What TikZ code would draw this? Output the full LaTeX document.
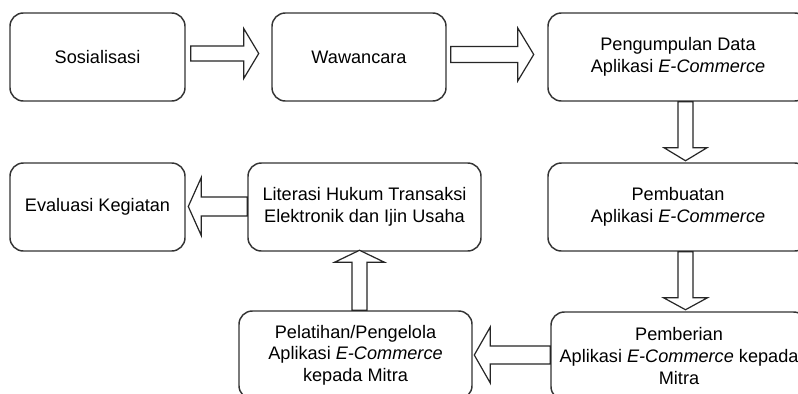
\documentclass[tikz,border=0pt]{standalone}
\usepackage{fontspec}
\setmainfont{Liberation Sans}
\usetikzlibrary{calc}
\tikzset{
  box/.style={draw=black!80, line width=1.1pt, rounded corners=10pt, fill=white,
    align=center, inner sep=2pt, text=black,
    font=\fontsize{13.6}{16.2}\selectfont, minimum height=66pt},
  barrowline/.style={draw=black!85, line width=0.9pt, fill=white, line join=miter},
}
% #1 start, #2 rotation, #3 length, #4 head length, #5 shaft half width, #6 head half width
\newcommand{\blockarrow}[6]{%
  \draw[barrowline, shift={#1}, rotate=#2]
    (0,-#5) -- ({#3-#4},-#5) -- ({#3-#4},-#6) -- (#3,0) -- ({#3-#4},#6) -- ({#3-#4},#5) -- (0,#5) -- cycle;
}
\begin{document}
\begin{tikzpicture}[x=0.75pt,y=-0.75pt]
\useasboundingbox (0,0) rectangle (798,393);
\fill[white] (0,0) rectangle (798,393);
\clip (0,0) rectangle (798,393);

\node[box, minimum width=131.25pt] (s1) at (97.5,57) {Sosialisasi};
\node[box, minimum width=130.5pt] (s2) at (359,57) {Wawancara};
\node[box, minimum width=195pt] (s3) at (678,57) {Pengumpulan Data\\Aplikasi \textit{E-Commerce}};
\node[box, minimum width=195pt] (s4) at (678,207) {Pembuatan\\Aplikasi \textit{E-Commerce}};
\node[box, minimum width=192pt] (s5) at (679,356) {Pemberian\\Aplikasi \textit{E-Commerce} kepada\\Mitra};
\node[box, minimum width=174.75pt] (s6) at (355.5,355) {Pelatihan/Pengelola\\Aplikasi \textit{E-Commerce}\\kepada Mitra};
\node[box, minimum width=174.75pt] (s7) at (364.5,207) {Literasi Hukum Transaksi\\Elektronik dan Ijin Usaha};
\node[box, minimum width=131.25pt] (s8) at (97.5,207) {Evaluasi Kegiatan};

\blockarrow{($(s1.east)+(5,-3.5)$)}{0}{68}{15}{7.5}{25}
\blockarrow{($(s2.east)+(4,-2.5)$)}{0}{83}{16}{8}{26.5}
\blockarrow{($(s3.south)+(7.5,0)$)}{-90}{59}{13}{7.5}{21.5}
\blockarrow{($(s4.south)+(7.5,0)$)}{-90}{58}{12}{7.5}{22}
\blockarrow{($(s5.west)+(0,-1)$)}{180}{76}{16}{9}{28}
\blockarrow{($(s6.north)+(4,0)$)}{90}{60}{12}{7.5}{25}
\blockarrow{($(s7.west)+(0,-0.5)$)}{180}{59}{13}{9.5}{29}
\end{tikzpicture}
\end{document}
